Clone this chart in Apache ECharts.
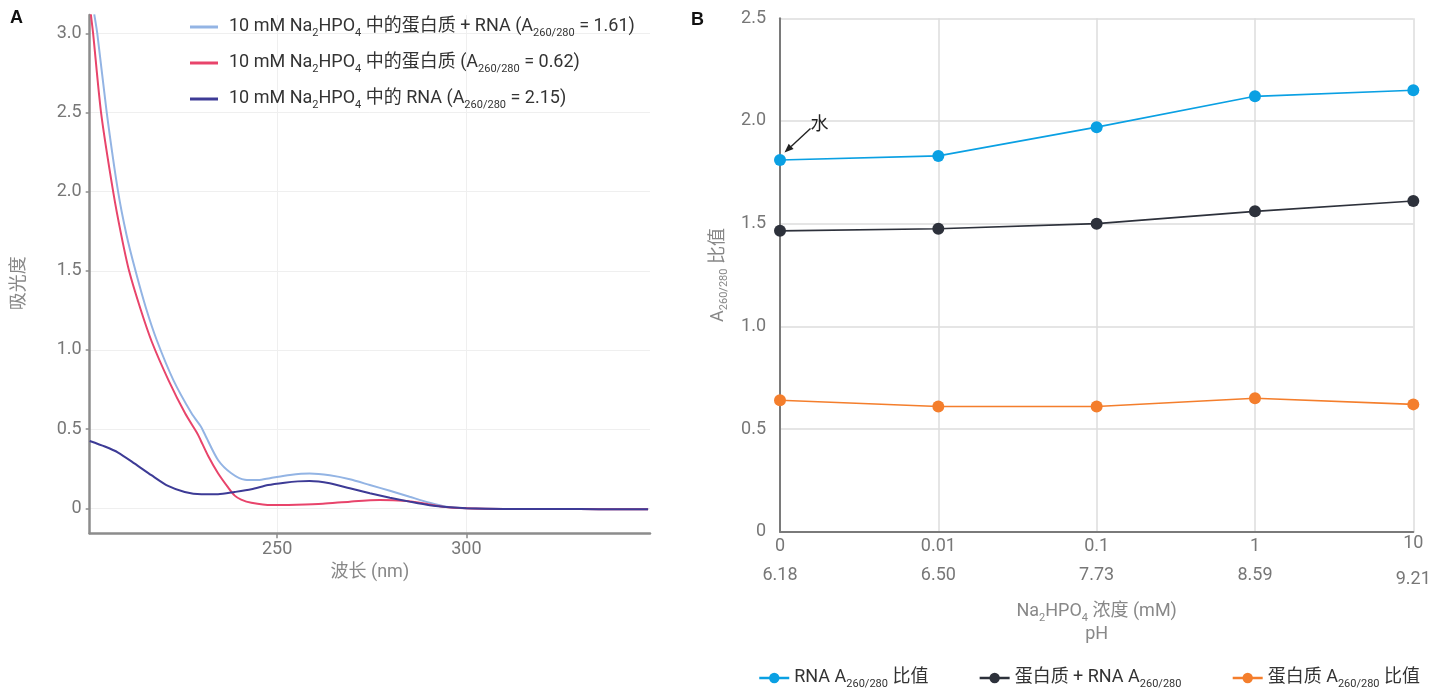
<!DOCTYPE html>
<html><head><meta charset="utf-8">
<script src="https://cdn.jsdelivr.net/npm/echarts@6/dist/echarts.min.js"></script>
<style>html,body{margin:0;padding:0;background:#fff}#c{width:1443px;height:689px}</style>
</head><body><div id="c"></div>
<script>
// ---------- Panel A data (wavelength nm / absorbance) ----------
const prnaNm  = [201.7, 202.5, 205.0, 208.0, 210.2, 212.6, 215.3, 218.2, 222.6, 227.4, 229.9, 231.0, 234.4, 237.9, 241.5, 245.0, 248.1, 253.4, 258.6, 263.9, 269.2, 274.5, 279.8, 285.0, 290.3, 294.7, 300, 310, 320, 330, 340, 348];
const prnaAbs = [3.12, 3.00, 2.50, 2.00, 1.73, 1.50, 1.27, 1.063, 0.81, 0.60, 0.515, 0.463, 0.305, 0.221, 0.18, 0.178, 0.19, 0.21, 0.219, 0.208, 0.183, 0.147, 0.111, 0.073, 0.035, 0.01, 0.0, -0.004, -0.005, -0.005, -0.006, -0.006];
const protNm  = [200.8, 201.4, 203.5, 206.7, 208.8, 210.9, 213.9, 216.9, 221.3, 225.7, 229.0, 229.8, 231.8, 234.4, 237.1, 238.8, 240.5, 243.2, 248.5, 255.1, 262.1, 269.2, 277.1, 283.3, 288.5, 293.8, 300, 310, 320, 330, 340, 348];
const protAbs = [3.12, 3.00, 2.50, 2.00, 1.73, 1.50, 1.26, 1.052, 0.81, 0.60, 0.47, 0.43, 0.33, 0.221, 0.13, 0.08, 0.055, 0.035, 0.02, 0.023, 0.029, 0.042, 0.052, 0.048, 0.032, 0.01, 0.0, -0.004, -0.005, -0.005, -0.006, -0.006];
const rnaNm   = [200.5, 204.5, 208.0, 212.4, 216.8, 221.2, 225.6, 230.0, 234.4, 238.8, 243.2, 247.6, 252.0, 255.5, 258.6, 263.9, 269.2, 274.5, 279.8, 285.0, 290.3, 295.6, 300, 310, 320, 330, 340, 348];
const rnaAbs  = [0.425, 0.39, 0.352, 0.282, 0.209, 0.141, 0.103, 0.089, 0.089, 0.103, 0.12, 0.147, 0.162, 0.170, 0.172, 0.158, 0.126, 0.095, 0.067, 0.042, 0.019, 0.006, 0.0, -0.004, -0.005, -0.005, -0.006, -0.006];
const aYTicks = [0, 0.5, 1.0, 1.5, 2.0, 2.5, 3.0];
const aXTicks = [250, 300];

// ---------- Panel B data ----------
const concLabels   = ['0', '0.01', '0.1', '1', '10'];
const phLabels     = ['6.18', '6.50', '7.73', '8.59', '9.21'];
const rnaRatio     = [1.81, 1.83, 1.97, 2.12, 2.15];
const protRnaRatio = [1.465, 1.475, 1.50, 1.56, 1.61];
const protRatio    = [0.64, 0.61, 0.61, 0.65, 0.62];

const FF = "Roboto, 'Noto Sans CJK SC', sans-serif";
const pairs = (xs, ys) => xs.map((x, i) => [x, ys[i]]);

const nameA1 = '蛋白质+RNA', nameA2 = '蛋白质', nameA3 = 'RNA';
const nameB1 = 'RNA比值', nameB2 = '蛋白质+RNA比值', nameB3 = '蛋白质比值';
const richNames = {};
richNames[nameA1] = '{t|10 mM Na}{s|2}{t|HPO}{s|4}{t| 中的蛋白质 + RNA (A}{s|260/280}{t| = 1.61)}';
richNames[nameA2] = '{t|10 mM Na}{s|2}{t|HPO}{s|4}{t| 中的蛋白质 (A}{s|260/280}{t| = 0.62)}';
richNames[nameA3] = '{t|10 mM Na}{s|2}{t|HPO}{s|4}{t| 中的 RNA (A}{s|260/280}{t| = 2.15)}';
richNames[nameB1] = '{t|RNA A}{s|260/280}{t| 比值}';
richNames[nameB2] = '{t|蛋白质 + RNA A}{s|260/280}';
richNames[nameB3] = '{t|蛋白质 A}{s|260/280}{t| 比值}';

function richSet(color, lh) {
  return {
    t: { fontSize: 18, lineHeight: lh, color: color, fontFamily: FF },
    s: { fontSize: 11, lineHeight: 14, verticalAlign: 'bottom', color: color, fontFamily: FF }
  };
}
const tickFmt = v => (v === 0 ? '0' : v.toFixed(1));
const gridGray = '#efefef';

const chart = echarts.init(document.getElementById('c'), null, { renderer: 'canvas' });
const option = {
  animation: false,
  backgroundColor: '#fff',
  textStyle: { fontFamily: FF },
  grid: [
    { left: 89.7, right: 793, top: 15, bottom: 155.7 },
    { left: 780, right: 29.7, top: 18.3, bottom: 157.3 }
  ],
  legend: [
    {
      data: [nameA1, nameA2, nameA3],
      orient: 'vertical', left: 190, top: 18, padding: 0, itemWidth: 28, itemHeight: 3, icon: 'rect',
      itemGap: 15, selectedMode: false,
      formatter: n => richNames[n],
      textStyle: { fontSize: 18, color: '#333', padding: [0, 0, 0, 6], rich: richSet('#333', 24) }
    },
    {
      data: [nameB1, nameB2, nameB3],
      orient: 'horizontal', left: 758, top: 669, padding: 0, itemWidth: 30, itemHeight: 13,
      itemGap: 50, selectedMode: false,
      lineStyle: { width: 2.5 },
      formatter: n => richNames[n],
      textStyle: { fontSize: 18, color: '#333', rich: richSet('#333', 24) }
    }
  ],
  xAxis: [
    {
      gridIndex: 0, type: 'value', min: 200.5, max: 348.5, splitNumber: 3,
      axisLine: { show: true, onZero: false, lineStyle: { color: '#8c8c8c', width: 2.5 } },
      axisTick: { show: true, length: 5, customValues: aXTicks, lineStyle: { color: '#8c8c8c', width: 1.5 } },
      axisLabel: { customValues: aXTicks, fontSize: 18, color: '#777', margin: 7, fontFamily: FF },
      splitLine: { show: true, lineStyle: { color: gridGray, width: 1 } },
      name: '波长 (nm)', nameLocation: 'middle', nameGap: 28,
      nameTextStyle: { fontSize: 18, color: '#888', fontFamily: FF }
    },
    {
      gridIndex: 1, type: 'category', data: concLabels, boundaryGap: false,
      axisLine: { show: true, onZero: false, lineStyle: { color: '#7a7a7a', width: 2 } },
      axisTick: { show: false },
      axisLabel: {
        margin: 4, interval: 0, color: '#777', fontSize: 18, fontFamily: FF,
        formatter: (v, i) => (i === concLabels.length - 1
          ? '{c4|' + v + '}\n{p4|' + phLabels[i] + '}'
          : '{c|' + v + '}\n{p|' + phLabels[i] + '}'),
        rich: {
          c:  { fontSize: 18, color: '#777', lineHeight: 22, fontFamily: FF },
          p:  { fontSize: 18, color: '#777', lineHeight: 34.6, fontFamily: FF },
          c4: { fontSize: 18, color: '#777', lineHeight: 15.2, fontFamily: FF },
          p4: { fontSize: 18, color: '#777', lineHeight: 57, fontFamily: FF }
        }
      },
      splitLine: { show: true, lineStyle: { color: '#dcdcdc', width: 1.5 } },
      name: '{t|Na}{s|2}{t|HPO}{s|4}{t| 浓度 (mM)}\n{t|pH}', nameLocation: 'middle', nameGap: 68.3,
      nameTextStyle: { fontSize: 18, color: '#888', rich: richSet('#888', 23.3) }
    }
  ],
  yAxis: [
    {
      gridIndex: 0, type: 'value', min: -0.158, max: 3.116, splitNumber: 6,
      axisLine: { show: true, lineStyle: { color: '#8c8c8c', width: 2.5 } },
      axisTick: { show: true, length: 4, customValues: aYTicks, lineStyle: { color: '#8c8c8c', width: 1.5 } },
      axisLabel: { customValues: aYTicks, formatter: tickFmt, fontSize: 18, color: '#777', margin: 8, fontFamily: FF },
      splitLine: { show: true, lineStyle: { color: gridGray, width: 1 } },
      name: '吸光度', nameLocation: 'middle', nameGap: 61,
      nameTextStyle: { fontSize: 18, color: '#888', fontFamily: FF, padding: [0, 18, 0, 0] }
    },
    {
      gridIndex: 1, type: 'value', min: 0, max: 2.5, interval: 0.5,
      axisLine: { show: true, lineStyle: { color: '#7a7a7a', width: 2 } },
      axisTick: { show: false },
      axisLabel: { formatter: tickFmt, fontSize: 18, color: '#777', margin: 14, fontFamily: FF },
      splitLine: { show: true, lineStyle: { color: '#dcdcdc', width: 1.5 } },
      name: '{t|A}{s|260/280}{t| 比值}', nameLocation: 'middle', nameGap: 50,
      nameTextStyle: { fontSize: 18, color: '#888', rich: richSet('#888', 24) }
    }
  ],
  series: [
    { name: nameA1, type: 'line', xAxisIndex: 0, yAxisIndex: 0, data: pairs(prnaNm, prnaAbs), smooth: 0.25, showSymbol: false, symbol: 'none', color: '#93b4e4', lineStyle: { width: 2, color: '#93b4e4' } },
    { name: nameA2, type: 'line', xAxisIndex: 0, yAxisIndex: 0, data: pairs(protNm, protAbs), smooth: 0.25, showSymbol: false, symbol: 'none', color: '#e8446b', lineStyle: { width: 2, color: '#e8446b' } },
    { name: nameA3, type: 'line', xAxisIndex: 0, yAxisIndex: 0, data: pairs(rnaNm, rnaAbs), smooth: 0.25, showSymbol: false, symbol: 'none', color: '#3d3b96', lineStyle: { width: 2, color: '#3d3b96' } },
    { name: nameB1, type: 'line', xAxisIndex: 1, yAxisIndex: 1, data: rnaRatio, symbol: 'circle', symbolSize: 12, color: '#0aa0e3', lineStyle: { width: 1.6, color: '#0aa0e3' }, itemStyle: { color: '#0aa0e3' } },
    { name: nameB2, type: 'line', xAxisIndex: 1, yAxisIndex: 1, data: protRnaRatio, symbol: 'circle', symbolSize: 12, color: '#2d313b', lineStyle: { width: 1.6, color: '#2d313b' }, itemStyle: { color: '#2d313b' } },
    { name: nameB3, type: 'line', xAxisIndex: 1, yAxisIndex: 1, data: protRatio, symbol: 'circle', symbolSize: 12, color: '#f47e2c', lineStyle: { width: 1.6, color: '#f47e2c' }, itemStyle: { color: '#f47e2c' } }
  ]
};
chart.setOption(option);

// Panel letters and the "水" annotation anchored to the first RNA point
const p = chart.convertToPixel({ xAxisIndex: 1, yAxisIndex: 1 }, [0, rnaRatio[0]]);
const tip = [p[0] + 4.5, p[1] - 7.5];
const tail = [p[0] + 30.5, p[1] - 31.5];
const dx = tip[0] - tail[0], dy = tip[1] - tail[1];
const len = Math.sqrt(dx * dx + dy * dy), ux = dx / len, uy = dy / len;
const headL = 9, headW = 3.6;
const base = [tip[0] - ux * headL, tip[1] - uy * headL];
chart.setOption({
  graphic: [
    { type: 'text', left: 10, top: 9, style: { text: 'A', font: "bold 18px 'Liberation Sans', Arial, sans-serif", fill: '#111' } },
    { type: 'text', left: 691, top: 11, style: { text: 'B', font: "bold 18px 'Liberation Sans', Arial, sans-serif", fill: '#111' } },
    { type: 'line', shape: { x1: tail[0], y1: tail[1], x2: base[0], y2: base[1] }, style: { stroke: '#222', lineWidth: 1.4 }, z: 100 },
    { type: 'polygon', shape: { points: [tip, [base[0] - uy * headW, base[1] + ux * headW], [base[0] + uy * headW, base[1] - ux * headW]] }, style: { fill: '#222' }, z: 100 },
    { type: 'text', x: p[0] + 39.5, y: p[1] - 37, style: { text: '水', font: "18px 'Noto Sans CJK SC', sans-serif", fill: '#222', textAlign: 'center', textVerticalAlign: 'middle' }, z: 100 }
  ]
});
</script></body></html>
